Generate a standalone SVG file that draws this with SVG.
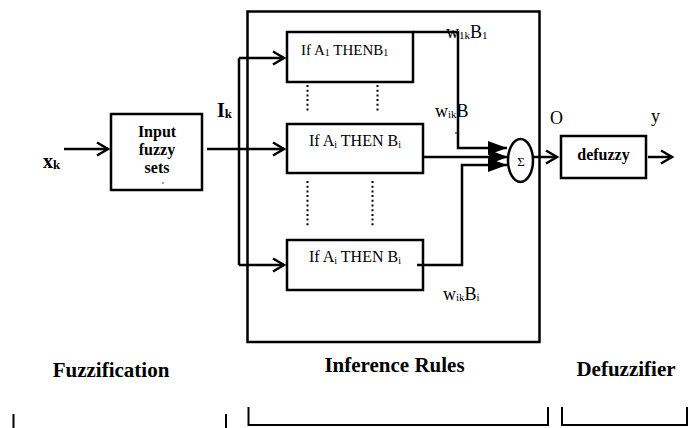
<svg xmlns="http://www.w3.org/2000/svg" width="696" height="428" viewBox="0 0 696 428">
<style>
.bx{fill:#fff;stroke:#000;stroke-width:2.5}
.ln{fill:none;stroke:#000;stroke-width:2.5}
.dot{fill:none;stroke:#000;stroke-width:2;stroke-dasharray:2 2.7}
.br{fill:none;stroke:#000;stroke-width:2}
text{font-family:"Liberation Serif","Times New Roman",serif;fill:#000}
.b{font-weight:bold}
.rt{font-size:16px}
.wl{font-size:18px}
.sub{font-size:11px}
.lab{font-size:21px;font-weight:bold;text-anchor:middle}
</style>
<defs>
<marker id="chev" markerUnits="userSpaceOnUse" markerWidth="16" markerHeight="18" refX="13" refY="8" orient="auto">
<path d="M2,1.5 L13,8 L2,14.5" fill="none" stroke="#000" stroke-width="2.5"/>
</marker>
<marker id="tri" markerUnits="userSpaceOnUse" markerWidth="20" markerHeight="16" refX="19" refY="7" orient="auto">
<path d="M0,0 L19,7 L0,14 Z" fill="#000"/>
</marker>
</defs>

<g id="inference-block">
<rect x="247.5" y="11.5" width="292" height="330.5" class="bx" fill="none" style="fill:none"/>
</g>

<g id="input-fuzzy-sets">
<rect x="111" y="114" width="91" height="76" class="bx"/>
<text x="157" y="137" class="b rt" text-anchor="middle">Input</text>
<text x="157" y="155" class="b rt" text-anchor="middle">fuzzy</text>
<text x="157" y="173" class="b rt" text-anchor="middle">sets</text>
<circle cx="163" cy="183" r="0.7" fill="#000"/>
</g>

<g id="rule-1">
<rect x="287" y="32" width="126" height="50" class="bx"/>
<text x="301" y="55" font-size="15">If A<tspan font-size="10" dy="1">1</tspan><tspan dy="-1"> THENB</tspan><tspan font-size="10" dy="1">1</tspan></text>
</g>

<g id="rule-i">
<rect x="287" y="124" width="136" height="49" class="bx"/>
<text x="309" y="146" class="rt">If A<tspan font-size="10" dy="2">i</tspan><tspan dy="-2"> THEN B</tspan><tspan font-size="10" dy="2">i</tspan></text>
</g>

<g id="rule-n">
<rect x="287" y="240" width="136" height="50" class="bx"/>
<text x="309" y="262" class="rt">If A<tspan font-size="10" dy="2">i</tspan><tspan dy="-2"> THEN B</tspan><tspan font-size="10" dy="2">i</tspan></text>
</g>

<g id="sum">
<ellipse cx="520.5" cy="160.5" rx="12.5" ry="21.5" class="bx"/>
<text x="521" y="166" font-size="13" text-anchor="middle">Σ</text>
</g>

<g id="defuzzy">
<rect x="561" y="136" width="85" height="42" class="bx"/>
<text x="603.5" y="160" class="b rt" text-anchor="middle">defuzzy</text>
</g>

<g id="connectors">
<path d="M64,149 H108" class="ln" marker-end="url(#chev)"/>
<path d="M207,149 H284" class="ln" marker-end="url(#chev)"/>
<path d="M239,58 V265" class="ln"/>
<path d="M239,58 H284" class="ln" marker-end="url(#chev)"/>
<path d="M239,265 H284" class="ln" marker-end="url(#chev)"/>
<path d="M413,32 H458 V148 H507" class="ln" marker-end="url(#tri)"/>
<path d="M423,157 H508" class="ln" marker-end="url(#tri)"/>
<path d="M417,265 H462 V165 H507" class="ln" marker-end="url(#tri)"/>
<path d="M533,157 H557" class="ln" marker-end="url(#chev)"/>
<path d="M648,157 H672" class="ln" marker-end="url(#chev)"/>
</g>

<g id="dots">
<path d="M307.5,85 V112 M377.5,85 V112 M307.5,181 V228 M372.5,181 V228" class="dot"/>
</g>

<g id="labels">
<text x="43" y="168" class="b" font-size="20">x<tspan font-size="13" dy="1">k</tspan></text>
<text x="217" y="117" class="b" font-size="20">I<tspan font-size="13" dy="1">k</tspan></text>
<text x="446" y="38" class="wl">w<tspan class="sub" dy="1">1k</tspan><tspan dy="-1">B</tspan><tspan class="sub" dy="1">1</tspan></text>
<text x="435" y="117" class="wl">w<tspan class="sub" dy="1">ik</tspan><tspan dy="-1">B</tspan></text>
<path d="M455,133 H457.5" stroke="#000" stroke-width="1"/>
<text x="443" y="300" class="wl">w<tspan class="sub" dy="1">ik</tspan><tspan dy="-1">B</tspan><tspan class="sub" dy="1">i</tspan></text>
<text x="550" y="124" class="wl">O</text>
<text x="651" y="122" class="wl">y</text>
<text x="111" y="377" class="lab">Fuzzification</text>
<text x="394.5" y="372" class="lab">Inference Rules</text>
<text x="626" y="376" class="lab">Defuzzifier</text>
</g>

<g id="brackets">
<path d="M13.5,414 V428 M226,414 V428" class="br"/>
<path d="M248.5,407 V425 H548 V407" class="br"/>
<path d="M562,407 V425 H687 V407" class="br"/>
</g>
</svg>
